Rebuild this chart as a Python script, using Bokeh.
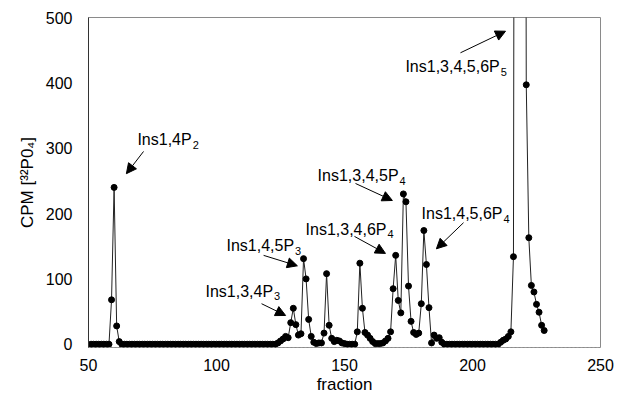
from bokeh.plotting import figure
from bokeh.models import ColumnDataSource, Range1d, Arrow, NormalHead, Label, FixedTicker
from bokeh.embed import file_html
from bokeh.resources import INLINE

# ---- data (fraction -> CPM) ----
fractions = list(range(51, 229))
cpm = (
    [0] * 8                                   # 51-58
    + [68, 240, 28, 4]                        # 59-62
    + [0] * 60                                # 63-122
    + [0, 2, 5, 8, 12, 10, 33, 55, 30, 14, 16]  # 123-133
    + [131, 100, 38, 12, 3, 1, 2, 2, 17]      # 134-142
    + [108, 29, 9, 4, 6, 5, 2, 1]             # 143-150
    + [0, 0, 0, 0]                            # 151-154
    + [19, 124, 55, 18, 14, 9, 4, 1, 1, 1, 2, 5, 9, 19]  # 155-168
    + [85, 136, 67, 48, 230, 218, 89, 35, 18, 15, 17]    # 169-179
    + [62, 174, 122, 56, 2, 14, 9, 10, 3]     # 180-188
    + [0] * 22                                # 189-210
    + [3, 6, 8, 12, 19, 134]                  # 211-216
    + [2600, 3100, 2900, 2400]                # 217-220 (off scale)
    + [397, 163, 90, 80, 61, 49, 29, 21]      # 221-228
)

x_ticks = [50, 100, 150, 200, 250]
y_ticks = [0, 100, 200, 300, 400, 500]

# annotations: main text + subscript, label anchor (fraction, cpm), arrow start/end
ann_main = ["Ins1,4P", "Ins1,4,5P", "Ins1,3,4P", "Ins1,3,4,5P",
            "Ins1,3,4,6P", "Ins1,4,5,6P", "Ins1,3,4,5,6P"]
ann_sub = ["2", "3", "3", "4", "4", "4", "5"]
ann_x = [69.1, 103.9, 95.7, 139.5, 134.8, 180.1, 173.8]
ann_y = [313, 151, 81, 258, 176, 200, 425]
arr_x0 = [71.5, 118.4, 117.6, 154.3, 153.9, 196.5, 195.3]
arr_y0 = [295, 136, 62, 246, 165, 186, 446]
arr_x1 = [64.8, 131.6, 127.0, 168.7, 166.0, 185.9, 212.9]
arr_y1 = [261, 120, 44, 220, 139, 146, 479]

src = ColumnDataSource(data=dict(x=fractions, y=cpm))

p = figure(width=626, height=400, frame_width=512, frame_height=330,
           x_range=Range1d(50, 250), y_range=Range1d(-5, 500),
           output_backend="svg", toolbar_location=None,
           min_border_left=88, min_border_right=26, min_border_top=17, min_border_bottom=53)

p.background_fill_color = "white"
p.border_fill_color = "white"
p.outline_line_color = "#8a8a8a"
p.outline_line_width = 1
p.xgrid.visible = False
p.ygrid.visible = False

font = "Liberation Sans"
for ax in (p.xaxis[0], p.yaxis[0]):
    ax.major_tick_line_color = None
    ax.minor_tick_line_color = None
    ax.major_label_text_font = font
    ax.major_label_text_font_size = "16px"
    ax.major_label_text_color = "black"
    ax.axis_label_text_font = font
    ax.axis_label_text_font_size = "17px"
    ax.axis_label_text_font_style = "normal"
    ax.axis_label_text_color = "black"

p.xaxis.ticker = FixedTicker(ticks=x_ticks)
p.yaxis.ticker = FixedTicker(ticks=y_ticks)
p.xaxis.axis_label = "fraction"
p.yaxis.axis_label = "CPM [³²P0₄]"
p.xaxis.major_label_standoff = 5
p.yaxis.major_label_standoff = 10
p.xaxis.axis_label_standoff = 1
p.yaxis.axis_label_standoff = 6
p.xaxis.axis_line_color = "#9a9a9a"
p.xaxis.axis_line_dash = "2 2"
p.yaxis.axis_line_color = "#333333"

p.line("x", "y", source=src, line_color="#222222", line_width=1)
p.scatter("x", "y", source=src, marker="circle", size=6,
          fill_color="black", line_color="black")

# Arial-metric advance widths (em units) to place subscripts after the text
adv = {"I": 0.278, "n": 0.556, "s": 0.5, ",": 0.278, "P": 0.667}
main_size = 16

def text_width(t):
    return sum(adv.get(c, 0.556) for c in t) * main_size

for i in range(len(ann_main)):
    p.add_layout(Arrow(end=NormalHead(size=10, fill_color="black", line_color="black"),
                       x_start=arr_x0[i], y_start=arr_y0[i],
                       x_end=arr_x1[i], y_end=arr_y1[i],
                       line_color="black", line_width=1))
    p.add_layout(Label(x=ann_x[i], y=ann_y[i], text=ann_main[i],
                       text_font=font, text_font_size=f"{main_size}px",
                       text_color="black", text_baseline="alphabetic",
                       text_align="left"))
    p.add_layout(Label(x=ann_x[i], y=ann_y[i], text=ann_sub[i],
                       x_offset=text_width(ann_main[i]) + 1, y_offset=-5,
                       text_font=font, text_font_size="11px",
                       text_color="black", text_baseline="alphabetic",
                       text_align="left"))

open("out.html", "w").write(file_html(p, INLINE))
